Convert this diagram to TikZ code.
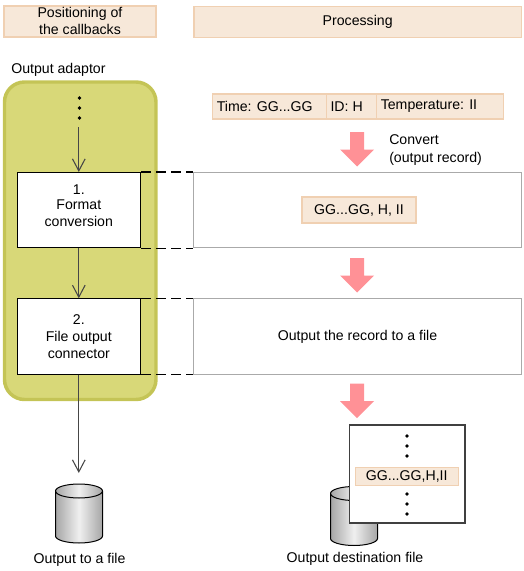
\documentclass[tikz,border=0pt]{standalone}
\usepackage{fontspec}
\setmainfont{Liberation Sans}
\usepackage{xcolor}
\usetikzlibrary{arrows.meta}
\definecolor{headfill}{RGB}{247,232,217}
\definecolor{headline}{RGB}{240,208,178}
\definecolor{adaptfill}{RGB}{216,216,120}
\definecolor{adaptline}{RGB}{196,196,86}
\definecolor{rowline}{RGB}{170,170,170}
\definecolor{pinkfill}{RGB}{255,145,150}
\definecolor{flowline}{RGB}{70,70,70}
\tikzset{
    headbox/.style={
        draw=headline,
        fill=headfill,
        line width=0.9pt,
        inner sep=0pt,
        align=center
    },
    recordfield/.style={
        headbox,
        inner xsep=3pt,
        minimum height=18.8pt,
        align=flush left
    },
    stagebox/.style={
        draw=black,
        fill=white,
        line width=0.8pt,
        inner sep=0pt,
        minimum width=92.6pt,
        minimum height=56.5pt,
        align=center
    },
    rowbox/.style={
        draw=rowline,
        fill=white,
        line width=0.8pt,
        inner sep=0pt,
        minimum width=246pt,
        minimum height=56.5pt,
        align=center
    },
    flowarrow/.style={
        line width=0.8pt,
        flowline,
        ->,
        >={Straight Barb[length=9pt, width=9.5pt]}
    },
    guideline/.style={
        line width=0.8pt,
        black,
        dash pattern=on 7.5pt off 3.75pt
    },
    pics/pinkarrow/.style={
        code={
            \fill[pinkfill] (-7,0) -- (7,0) -- (7,17.5) -- (17,17.5) -- (0,34.5) -- (-17,17.5) -- (-7,17.5) -- cycle;
        }
    },
    pics/filecan/.style={
        code={
            \draw[line width=0.75pt, left color=gray!70, right color=gray!70, middle color=gray!12]
                (-23.5,-22.5) -- (-23.5,22.5) arc[start angle=180, end angle=0, x radius=23.5, y radius=7]
                -- (23.5,-22.5) arc[start angle=0, end angle=-180, x radius=23.5, y radius=7] -- cycle;
            \draw[line width=0.75pt] (-23.5,-22.5) arc[start angle=180, end angle=0, x radius=23.5, y radius=7];
        }
    }
}
\begin{document}
\begin{tikzpicture}[x=0.75pt, y=-0.75pt, font=\fontsize{10.6pt}{12.8pt}\selectfont]
	\useasboundingbox (0,0) rectangle (524,571);

	% column headings
	\node [headbox, minimum width=114pt, minimum height=23.2pt] (callbacks) at (80,21.5) {};
	\node [align=center, inner sep=0pt] (callbackstext) at (80,20.5) {Positioning of\\the callbacks};
	\node [headbox, minimum width=245.6pt, minimum height=23.2pt] (processing) at (357.7,22) {Processing};

	\node [anchor=west, inner sep=0pt] (adaptorlabel) at (11,69.5) {Output adaptor};
	\draw[adaptline, fill=adaptfill, line width=2.6pt, rounded corners=15pt] (4.5,82) rectangle (156,399.5);

	% record before conversion
	\node [recordfield, text width=79.5pt] (timefield) at (269.8,106.5) {Time: GG...GG};
	\node [recordfield, text width=31.6pt] (idfield) at (351.6,106.5) {ID: H};
	\node [recordfield, text width=88.8pt] (tempfield) at (440,106.5) {Temperature: II};

	\pic at (357,132) {pinkarrow};
	\node [anchor=west, inner sep=0pt, align=left] (convertlabel) at (389,150) {Convert\\(output record)};

	% the two stages and their rows
	\node [rowbox] (convrow) at (357.5,210.2) {};
	\node [headbox, minimum width=85.5pt, minimum height=19.5pt] (convrecord) at (359,210) {GG...GG, H, II};
	\node [stagebox] (convstage) at (78.8,210.2) {};
	\node [align=center, inner sep=0pt] (convtext) at (78.8,205.5) {1.\\[-1pt]Format\\[-0.5pt]conversion};

	\pic at (357,258) {pinkarrow};

	\node [rowbox] (filerow) at (357.5,336.5) {Output the record to a file};
	\node [stagebox] (filestage) at (78.8,336.5) {2.\\File output\\connector};

	\pic at (357,383.5) {pinkarrow};

	\draw[guideline] (convstage.north east)--(convrow.north west);
	\draw[guideline] (convstage.south east)--(convrow.south west);
	\draw[guideline] (filestage.north east)--(filerow.north west);
	\draw[guideline] (filestage.south east)--(filerow.south west);

	% flow down the adaptor
	\foreach \y in {98,108,118}
		\fill (79.5,\y) circle (1.4pt);
	\coordinate (flowstart) at (convstage.north |- 0,127);
	\coordinate (flowend) at (convstage.north |- 0,473);
	\draw[flowarrow] (flowstart)--(convstage.north);
	\draw[flowarrow] (convstage.south)--(filestage.north);
	\draw[flowarrow] (filestage.south)--(flowend);

	% files
	\pic at (79,513.5) {filecan};
	\node (filelabel) at (79.5,559.5) {Output to a file};

	\pic at (354,516) {filecan};
	\node [draw=black!75, fill=white, line width=0.9pt, inner sep=0pt, minimum width=86.6pt, minimum height=73.5pt] (destpage) at (407.3,474) {};
	\foreach \y in {436,446,456,494,504,514}
		\fill (407,\y) circle (1.4pt);
	\node [headbox, line width=0.7pt, minimum width=77pt, minimum height=13.5pt] (destrecord) at (406.7,476.5) {GG...GG,H,II};
	\node (destlabel) at (355,558.5) {Output destination file};
\end{tikzpicture}
\end{document}
